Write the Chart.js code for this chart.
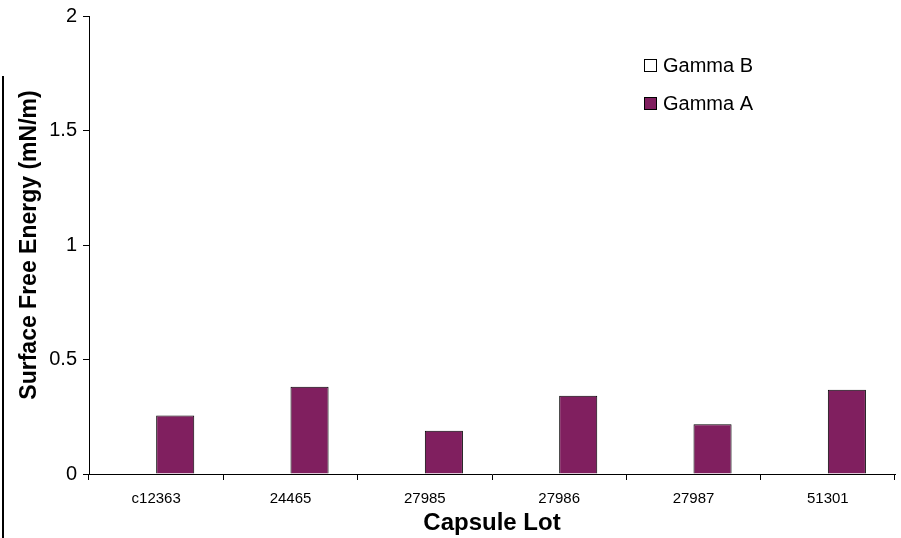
<!DOCTYPE html>
<html>
<head>
<meta charset="utf-8">
<script src="https://cdn.jsdelivr.net/npm/chart.js@4/dist/chart.umd.min.js"></script>
<style>
html,body{margin:0;padding:0;background:#fff;}
#wrap{position:relative;width:901px;height:538px;}
#edge{position:absolute;left:2px;top:76px;width:2px;height:462px;background:#000;}
</style>
</head>
<body>
<div id="wrap">
<canvas id="c" width="901" height="538"></canvas>
<div id="edge"></div>
</div>
<script>
// data
const lots = ["c12363","24465","27985","27986","27987","51301"];
const gammaB = [0,0,0,0,0,0];
const gammaA = [0.255,0.381,0.189,0.342,0.217,0.368];
const yTicks = [0,0.5,1,1.5,2];

const FONT = "'Liberation Sans', Arial, sans-serif";

/* legend drawn inside the plot, like the original */
const boxLegend = {
id:"boxLegend",
afterDraw(chart){
const ctx = chart.ctx;
const items = [
{label:"Gamma B", ds:chart.data.datasets[0], y:59},
{label:"Gamma A", ds:chart.data.datasets[1], y:97}
];
ctx.save();
ctx.font = "20px " + FONT;
ctx.textBaseline = "middle";
items.forEach(it=>{
ctx.fillStyle = it.ds.backgroundColor;
ctx.fillRect(644.5, it.y+0.5, 12, 12);
ctx.strokeStyle = "#000";
ctx.lineWidth = 1;
ctx.strokeRect(644.5, it.y+0.5, 12, 12);
ctx.fillStyle = "#000";
ctx.fillText(it.label, 663, it.y+7);
});
ctx.restore();
}
};

new Chart(document.getElementById("c"),{
type:"bar",
data:{
labels:lots,
datasets:[
{label:"Gamma B",data:gammaB,backgroundColor:"#ffffff",borderColor:"#000",borderWidth:1},
{label:"Gamma A",data:gammaA,backgroundColor:"#801F5F",borderColor:"#000",borderWidth:1}
]
},
options:{
responsive:false,
animation:false,
layout:{padding:{top:16,right:6,left:16,bottom:0}},
plugins:{legend:{display:false},tooltip:{enabled:false}},
datasets:{bar:{barPercentage:1,categoryPercentage:0.567}},
scales:{
x:{
grid:{display:true,drawOnChartArea:false,drawTicks:true,tickLength:6,color:"#000",offset:true},
border:{color:"#000",width:1},
ticks:{color:"#000",font:{family:FONT,size:15},padding:10,maxRotation:0},
title:{display:true,text:"Capsule Lot",color:"#000",font:{family:FONT,size:24,weight:"bold"},padding:{top:0,bottom:0}},
afterFit(s){ s.height = 64; }
},
y:{
min:0,max:2,
afterBuildTicks(s){ s.ticks = yTicks.map(v=>({value:v})); },
grid:{display:true,drawOnChartArea:false,drawTicks:true,tickLength:6,color:"#000"},
border:{color:"#000",width:1},
ticks:{color:"#000",font:{family:FONT,size:20},padding:6,callback:v=>String(v)},
title:{display:true,text:"Surface Free Energy (mN/m)",color:"#000",font:{family:FONT,size:23,weight:"bold"},padding:{top:0,bottom:0}},
afterFit(s){ s.width = 73; s.paddingTop = 0; s.paddingBottom = 0; }
}
}
},
plugins:[boxLegend]
});
</script>
</body>
</html>
